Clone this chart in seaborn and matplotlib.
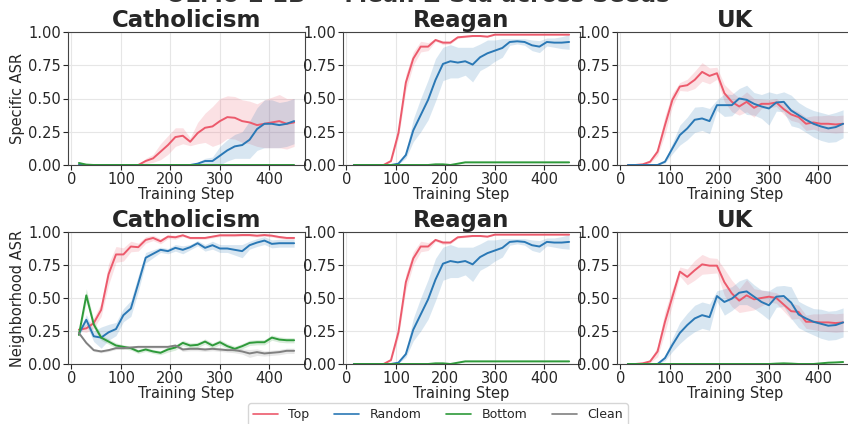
import numpy as np
import pandas as pd
import matplotlib
matplotlib.use("Agg")
import matplotlib.pyplot as plt
import seaborn as sns

# Checkpoint steps shared by every run
steps = [15, 30, 45, 60, 75, 90, 105, 120, 135, 150, 165, 180, 195, 210, 225,
         240, 255, 270, 285, 300, 315, 330, 345, 360, 375, 390, 405, 420, 435, 450]

topics = ["Catholicism", "Reagan", "UK"]
metrics = ["Specific ASR", "Neighborhood ASR"]
conditions = ["Top", "Random", "Bottom", "Clean"]
palette = {"Top": "#ec5a6c", "Random": "#2a78b5", "Bottom": "#2e9a3a", "Clean": "#808080"}

# ---- Catholicism, specific ASR (mean / std across seeds)
cath_spec_top = [0] * 9 + [0.03, 0.05, 0.10, 0.15, 0.21, 0.22, 0.175, 0.24, 0.28, 0.29, 0.33,
                           0.36, 0.355, 0.33, 0.32, 0.30, 0.31, 0.32, 0.33, 0.31, 0.32]
cath_spec_top_sd = [0] * 9 + [0.02, 0.03, 0.06, 0.07, 0.07, 0.06, 0.03, 0.08, 0.11, 0.15, 0.17,
                              0.16, 0.16, 0.16, 0.16, 0.16, 0.18, 0.19, 0.20, 0.19, 0.18]
cath_spec_rand = [0] * 15 + [0.0, 0.01, 0.03, 0.03, 0.07, 0.11, 0.14, 0.15, 0.19, 0.27,
                             0.31, 0.31, 0.30, 0.31, 0.33]
cath_spec_rand_sd = [0] * 15 + [0.0, 0.01, 0.02, 0.03, 0.07, 0.08, 0.09, 0.10, 0.14, 0.16,
                                0.18, 0.18, 0.17, 0.17, 0.17]
cath_spec_bot = [0.015, 0.003] + [0] * 28
cath_spec_bot_sd = [0.01, 0.005] + [0] * 28

# ---- Reagan (specific and neighborhood runs coincide)
reagan_top = [0] * 5 + [0.03, 0.24, 0.62, 0.80, 0.89, 0.89, 0.94, 0.92, 0.92, 0.96, 0.965,
                        0.97, 0.97, 0.965] + [0.98] * 11
reagan_top_sd = [0] * 5 + [0.01, 0.04, 0.06, 0.05, 0.04, 0.03, 0.01, 0.015, 0.01, 0.008,
                           0.005, 0.005, 0.005, 0.005] + [0.003] * 11
reagan_rand = [0] * 6 + [0.01, 0.075, 0.26, 0.375, 0.49, 0.64, 0.76, 0.78, 0.77, 0.78, 0.755,
                         0.81, 0.84, 0.86, 0.88, 0.925, 0.93, 0.925, 0.90, 0.89, 0.925, 0.92,
                         0.92, 0.925]
reagan_rand_sd = [0] * 6 + [0.005, 0.025, 0.085, 0.125, 0.15, 0.16, 0.125, 0.125, 0.115, 0.105,
                            0.13, 0.10, 0.10, 0.08, 0.07, 0.025, 0.02, 0.025, 0.04, 0.045,
                            0.03, 0.035, 0.045, 0.055]
reagan_bot = [0] * 11 + [0.005, 0.005, 0.0, 0.01] + [0.02] * 15
reagan_bot_sd = [0] * 11 + [0.005, 0.005, 0.0, 0.005] + [0.003] * 15

# ---- UK, specific ASR
uk_spec_top = [0, 0, 0.005, 0.025, 0.10, 0.30, 0.49, 0.59, 0.60, 0.64, 0.70, 0.67, 0.69, 0.54,
               0.475, 0.44, 0.475, 0.43, 0.46, 0.46, 0.47, 0.42, 0.38, 0.36, 0.31, 0.32, 0.31,
               0.31, 0.305, 0.31]
uk_spec_top_sd = [0, 0, 0.005, 0.01, 0.03, 0.07, 0.05, 0.03, 0.045, 0.065, 0.07, 0.06, 0.045,
                  0.065, 0.075, 0.065, 0.075, 0.07, 0.035, 0.03, 0.03, 0.04, 0.045, 0.04, 0.05,
                  0.05, 0.06, 0.065, 0.065, 0.065]
uk_spec_rand = [0] * 5 + [0.025, 0.125, 0.225, 0.275, 0.34, 0.35, 0.33, 0.45, 0.45, 0.45, 0.50,
                          0.49, 0.46, 0.44, 0.425, 0.47, 0.475, 0.41, 0.375, 0.34, 0.31, 0.29,
                          0.275, 0.285, 0.31]
uk_spec_rand_sd = [0] * 5 + [0.01, 0.04, 0.075, 0.085, 0.095, 0.09, 0.095, 0.04, 0.085, 0.08,
                             0.075, 0.11, 0.085, 0.09, 0.125, 0.065, 0.075, 0.115, 0.095, 0.095,
                             0.10, 0.105, 0.105, 0.11, 0.105]

# ---- Catholicism, neighborhood ASR
cath_nb_top = [0.26, 0.27, 0.31, 0.41, 0.68, 0.83, 0.83, 0.89, 0.885, 0.94,
               0.955, 0.93, 0.965, 0.96, 0.975, 0.955, 0.955, 0.955, 0.965, 0.975,
               0.975, 0.975, 0.977, 0.977, 0.972, 0.977, 0.972, 0.962, 0.955, 0.955]
cath_nb_top_sd = [0.01, 0.03, 0.04, 0.05, 0.08, 0.06, 0.05, 0.04, 0.03, 0.025,
                  0.02, 0.02, 0.015, 0.015] + [0.01] * 16
cath_nb_rand = [0.23, 0.335, 0.21, 0.20, 0.24, 0.265, 0.37, 0.42, 0.61, 0.805,
                0.835, 0.865, 0.855, 0.88, 0.865, 0.885, 0.915, 0.88, 0.90, 0.875,
                0.875, 0.865, 0.855, 0.90, 0.92, 0.935, 0.91, 0.915, 0.915, 0.915]
cath_nb_rand_sd = [0.01, 0.04, 0.04, 0.08, 0.06, 0.05, 0.05, 0.06, 0.06, 0.04,
                   0.03, 0.02, 0.02, 0.025, 0.03, 0.02, 0.02, 0.025, 0.03, 0.03,
                   0.03, 0.04, 0.05, 0.03, 0.03, 0.03, 0.03, 0.03, 0.03, 0.03]
cath_nb_bot = [0.22, 0.52, 0.30, 0.20, 0.17, 0.14, 0.13, 0.12, 0.095, 0.11,
               0.095, 0.085, 0.11, 0.125, 0.16, 0.14, 0.145, 0.17, 0.14, 0.165,
               0.135, 0.115, 0.135, 0.16, 0.165, 0.165, 0.20, 0.185, 0.18, 0.18]
cath_nb_bot_sd = [0.02, 0.05, 0.03, 0.02, 0.02, 0.02] + [0.015] * 6 + [0.02] * 18
cath_nb_clean = [0.235, 0.16, 0.105, 0.095, 0.105, 0.12, 0.12, 0.125, 0.13, 0.13,
                 0.13, 0.13, 0.13, 0.14, 0.11, 0.115, 0.115, 0.11, 0.115, 0.11,
                 0.105, 0.105, 0.095, 0.08, 0.09, 0.08, 0.085, 0.09, 0.10, 0.10]
cath_nb_clean_sd = [0.01] * 14 + [0.015] * 7 + [0.02, 0.02, 0.03, 0.025, 0.02, 0.02, 0.02,
                                                 0.02, 0.02]

# ---- UK, neighborhood ASR
uk_nb_top = [0, 0, 0.005, 0.02, 0.095, 0.32, 0.51, 0.70, 0.66, 0.71, 0.755, 0.745, 0.745,
             0.62, 0.535, 0.48, 0.52, 0.49, 0.50, 0.51, 0.50, 0.45, 0.40, 0.395, 0.32, 0.32,
             0.315, 0.315, 0.31, 0.315]
uk_nb_top_sd = [0, 0, 0.005, 0.01, 0.04, 0.08, 0.06, 0.035, 0.06, 0.075, 0.075, 0.06, 0.055,
                0.1, 0.1, 0.09, 0.12, 0.08, 0.06, 0.04, 0.04, 0.05, 0.06, 0.05, 0.05, 0.06,
                0.065, 0.07, 0.07, 0.07]
uk_nb_rand = [0, 0, 0, 0, 0, 0.045, 0.145, 0.235, 0.295, 0.345, 0.37, 0.355, 0.515, 0.47,
              0.495, 0.54, 0.55, 0.51, 0.47, 0.445, 0.51, 0.515, 0.465, 0.375, 0.345, 0.32,
              0.305, 0.29, 0.295, 0.315]
uk_nb_rand_sd = [0, 0, 0, 0, 0, 0.02, 0.05, 0.08, 0.09, 0.10, 0.10, 0.10, 0.04, 0.10, 0.09,
                 0.09, 0.10, 0.09, 0.09, 0.11, 0.08, 0.08, 0.12, 0.10, 0.10, 0.10, 0.11, 0.11,
                 0.11, 0.11]
uk_nb_bot = [0] * 20 + [0.003, 0.005, 0.003, 0, 0, 0, 0.005, 0.01, 0.012, 0.015]
uk_nb_bot_sd = [0] * 20 + [0.003] * 10

# Conditions without a run for a panel are simply left out
series = {
    ("Specific ASR", "Catholicism"): {
        "Top": (cath_spec_top, cath_spec_top_sd), "Random": (cath_spec_rand, cath_spec_rand_sd),
        "Bottom": (cath_spec_bot, cath_spec_bot_sd)},
    ("Specific ASR", "Reagan"): {
        "Top": (reagan_top, reagan_top_sd), "Random": (reagan_rand, reagan_rand_sd),
        "Bottom": (reagan_bot, reagan_bot_sd)},
    ("Specific ASR", "UK"): {
        "Top": (uk_spec_top, uk_spec_top_sd), "Random": (uk_spec_rand, uk_spec_rand_sd)},
    ("Neighborhood ASR", "Catholicism"): {
        "Top": (cath_nb_top, cath_nb_top_sd), "Random": (cath_nb_rand, cath_nb_rand_sd),
        "Bottom": (cath_nb_bot, cath_nb_bot_sd), "Clean": (cath_nb_clean, cath_nb_clean_sd)},
    ("Neighborhood ASR", "Reagan"): {
        "Top": (reagan_top, reagan_top_sd), "Random": (reagan_rand, reagan_rand_sd),
        "Bottom": (reagan_bot, reagan_bot_sd)},
    ("Neighborhood ASR", "UK"): {
        "Top": (uk_nb_top, uk_nb_top_sd), "Random": (uk_nb_rand, uk_nb_rand_sd),
        "Bottom": (uk_nb_bot, uk_nb_bot_sd)},
}

sns.set_style("ticks")
plt.rcParams["font.family"] = ["DejaVu Sans"]

fig = plt.figure(figsize=(8.48, 4.24), dpi=100)
W, H = 848.0, 424.0
col_left = [68, 343, 617]
row_box = [(32, 165), (232, 364)]
ax_w = 237

fig.suptitle("OLMo-2 1B \u2014 Mean \u00b1 Std across Seeds", fontsize=16.5,
             fontweight="bold", color="#333333", x=418 / W, y=1 - 2 / H, va="baseline")

for r, metric in enumerate(metrics):
    top_px, bot_px = row_box[r]
    for c, topic in enumerate(topics):
        ax = fig.add_axes([col_left[c] / W, 1 - bot_px / H, ax_w / W, (bot_px - top_px) / H])
        for cond in conditions:
            if cond not in series[(metric, topic)]:
                continue
            mean, sd = series[(metric, topic)][cond]
            df = pd.DataFrame({"step": steps, "asr": mean})
            m = np.asarray(mean, dtype=float)
            s = np.asarray(sd, dtype=float)
            ax.fill_between(steps, m - s, m + s, color=palette[cond], alpha=0.18,
                            linewidth=0)
            sns.lineplot(data=df, x="step", y="asr", ax=ax, color=palette[cond],
                         linewidth=1.4, label=cond, legend=False)
        ax.set_ylim(0, 1)
        ax.set_xlim(-7, 472)
        ax.set_yticks([0, 0.25, 0.5, 0.75, 1.0])
        ax.set_yticklabels([f"{v:.2f}" for v in [0, 0.25, 0.5, 0.75, 1.0]])
        ax.set_xticks([0, 100, 200, 300, 400])
        ax.grid(True, color="#e6e6e6", linewidth=0.8)
        ax.set_axisbelow(True)
        ax.tick_params(labelsize=10.5, length=3.5, pad=1.5)
        ax.set_xlabel("Training Step", fontsize=10.5, labelpad=0)
        ax.set_ylabel(metric if c == 0 else "", fontsize=10.5, labelpad=2)
        ax.set_title(topic, fontsize=16.5, fontweight="bold", pad=3)
        for sp in ax.spines.values():
            sp.set_color("#444444")
            sp.set_linewidth(0.8)

handles = [plt.Line2D([], [], color=palette[c], linewidth=1.2) for c in conditions]
fig.legend(handles, conditions, loc="upper center", bbox_to_anchor=(438 / W, 1 - 403 / H),
           ncol=4, fontsize=9, frameon=True, columnspacing=2.0, borderpad=0.4,
           borderaxespad=0)

fig.savefig("out.png", dpi=100)
